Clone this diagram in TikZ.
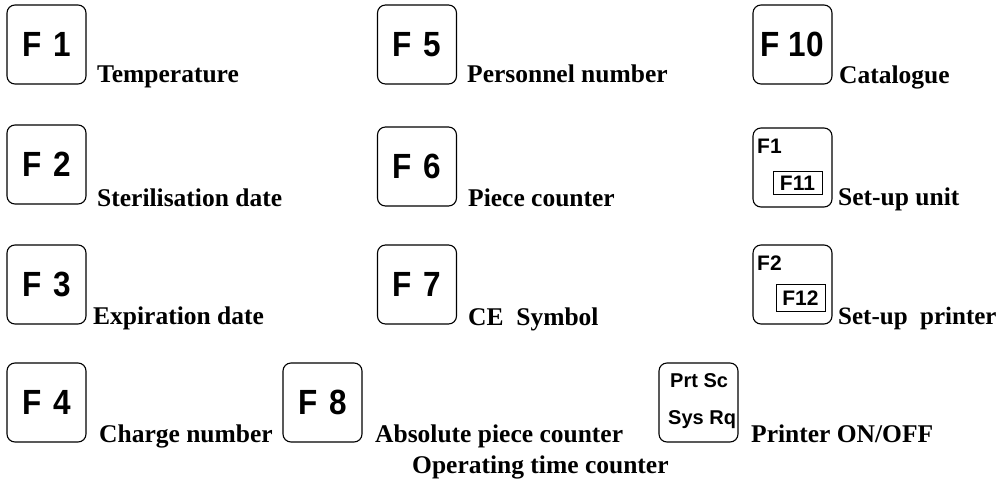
\documentclass[tikz,border=0pt]{standalone}
\usepackage{fontspec}
\usepackage{graphicx}
\setmainfont{Liberation Serif}
\newfontfamily\keyfont{Liberation Sans}
\begin{document}
\begin{tikzpicture}[x=1pt,y=-1pt,
  key/.style={draw, line width=1.1pt, rounded corners=8pt, minimum width=79pt, minimum height=79pt, inner sep=0pt,
    font=\keyfont\bfseries\fontsize{35}{35}\selectfont},
  small/.style={inner sep=0pt, anchor=base west, font=\keyfont\bfseries\fontsize{21}{21}\selectfont},
  inbox/.style={draw, line width=0.9pt, inner sep=0pt, minimum width=49pt, font=\keyfont\bfseries\fontsize{21}{21}\selectfont},
  lbl/.style={anchor=base west, inner sep=0pt, font=\bfseries\fontsize{25.5}{25.5}\selectfont}]
\useasboundingbox (0,0) rectangle (1001,482);
% row 1
\node[key] (k1) at (46.5,44.5) {\scalebox{0.9}[1]{F\hspace{3pt} 1}};
\node[lbl] (t1) at (97,82) {Temperature};
\node[key] (k5) at (417,44.5) {\scalebox{0.9}[1]{F\hspace{3pt} 5}};
\node[lbl] (t5) at (467,82) {Personnel number};
\node[key] (k10) at (792.5,44.5) {\scalebox{0.9}[1]{F 10}};
\node[lbl] (t10) at (839,83) {Catalogue};
% row 2
\node[key] (k2) at (46.5,164.5) {\scalebox{0.9}[1]{F\hspace{3pt} 2}};
\node[lbl] (t2) at (97,206) {Sterilisation date};
\node[key] (k6) at (417,166.5) {\scalebox{0.9}[1]{F\hspace{3pt} 6}};
\node[lbl] (t6) at (468,206) {Piece counter};
\node[key] (k11) at (792.5,167.5) {};
\node[small] (k11a) at (757,153) {F1};
\node[inbox, minimum height=23pt] (k11b) at (797.5,183) {F11};
\node[lbl] (t11) at (838,205) {Set-up unit};
% row 3
\node[key] (k3) at (46.5,284.5) {\scalebox{0.9}[1]{F\hspace{3pt} 3}};
\node[lbl] (t3) at (93,324) {Expiration date};
\node[key] (k7) at (417,284.5) {\scalebox{0.9}[1]{F\hspace{3pt} 7}};
\node[lbl] (t7) at (468,325) {CE\ \ Symbol};
\node[key] (k12) at (792.5,284.5) {};
\node[small] (k12a) at (757,270) {F2};
\node[inbox, minimum height=27pt] (k12b) at (800.5,298) {F12};
\node[lbl, font=\bfseries\fontsize{25}{25}\selectfont] (t12) at (838,324) {Set-up\ \ printer};
% row 4
\node[key] (k4) at (46.5,402.5) {\scalebox{0.9}[1]{F\hspace{3pt} 4}};
\node[lbl] (t4) at (99,442) {Charge number};
\node[key] (k8) at (322.5,402.5) {\scalebox{0.9}[1]{F\hspace{3pt} 8}};
\node[lbl] (t8) at (375,442) {Absolute piece counter};
\node[lbl] (t8b) at (412,473) {Operating time counter};
\node[key] (kp) at (698.5,402.5) {};
\node[small, font=\keyfont\bfseries\fontsize{20}{20}\selectfont] (kpa) at (670,387) {Prt Sc};
\node[small, font=\keyfont\bfseries\fontsize{20}{20}\selectfont] (kpb) at (668,424) {Sys Rq};
\node[lbl] (tp) at (751,442) {Printer ON/OFF};
\end{tikzpicture}
\end{document}
